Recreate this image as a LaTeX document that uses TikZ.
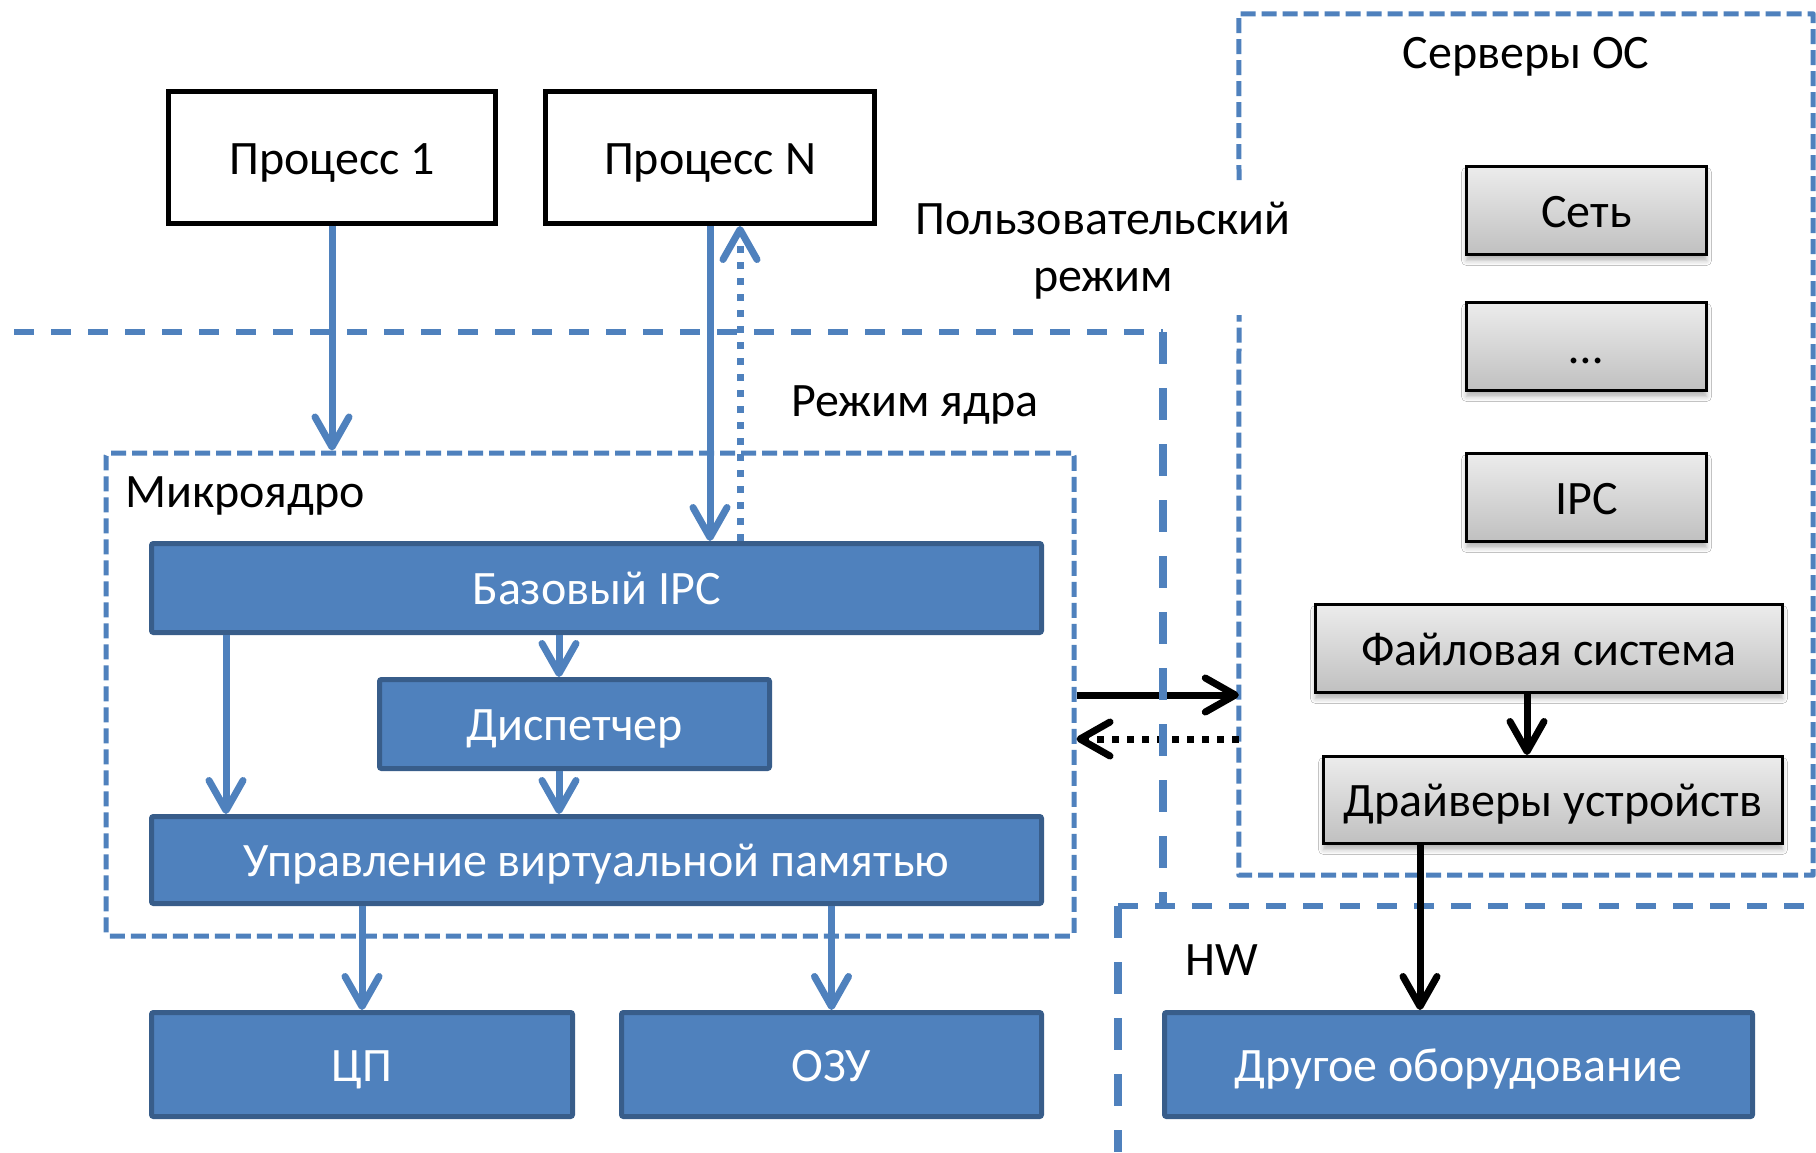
\documentclass[tikz,border=0pt]{standalone}
\usepackage{fontspec}
\setmainfont{Carlito}
\usetikzlibrary{arrows.meta,shadows.blur}
\definecolor{bfill}{RGB}{79,129,189}
\definecolor{bdraw}{RGB}{56,93,138}
\definecolor{gtop}{RGB}{236,236,236}
\definecolor{gbot}{RGB}{192,192,192}
\tikzset{
  lbl/.style={font=\fontsize{48}{57}\selectfont, inner sep=0pt},
  boxtxt/.style={lbl, text height=33pt, text depth=0pt},
  bluebox/.style={boxtxt, draw=bdraw, fill=bfill, line width=5pt, text=white, rounded corners=2pt},
  procbox/.style={boxtxt, draw=black, fill=white, line width=5pt},
  graybox/.style={boxtxt, draw=black, line width=3pt, top color=gtop, bottom color=gbot,
    blur shadow={shadow xshift=0pt, shadow yshift=-6pt, shadow blur radius=5pt, shadow opacity=30}},
  tipb/.style={-{Straight Barb[length=30pt,width=34pt,round]}},
  bluearr/.style={tipb, draw=bfill, line width=7pt},
  bluedot/.style={bluearr, dash pattern=on 7pt off 9pt},
  blackarr/.style={tipb, draw=black, line width=7pt},
  blackdot/.style={blackarr, dash pattern=on 7pt off 8pt},
  thindash/.style={draw=bfill, line width=5pt, dash pattern=on 15pt off 6pt, line join=round},
  thickh/.style={draw=bfill, line width=6pt, dash pattern=on 20pt off 17pt},
  thickv/.style={draw=bfill, line width=8pt, dash pattern=on 32pt off 24pt}
}
\begin{document}
\begin{tikzpicture}[x=1pt,y=-1pt]
\useasboundingbox (0,0) rectangle (1816,1152);
\fill[white] (0,0) rectangle (1816,1152);

% regions
\node[thindash, minimum width=968pt, minimum height=483pt, inner sep=0pt, rounded corners=3pt] (mk) at (590,694.5) {};
\node[minimum width=574pt, minimum height=861pt, inner sep=0pt] (srv) at (1526,444.5) {};
\coordinate (g1) at (1239,180);
\coordinate (g2) at (1239,315);
\draw[thindash] (g1) -- (srv.north west) -- (srv.north east) -- (srv.south east) -- (srv.south west) -- (g2);

% mode boundaries (horizontal)
\draw[thickh] (14,332) -- (1163,332);
\draw[thickh] (1118,906) -- (1816,906);

% labels
\node[lbl, anchor=base] (srvt) at (1526,68) {Серверы ОС};
\node[lbl, anchor=base, align=center] (user) at (1103,291) {Пользовательский\\режим};
\node[lbl, anchor=base west] (kern) at (791,416) {Режим ядра};
\node[lbl, anchor=base west] (mkt) at (125,507) {Микроядро};
\node[lbl, anchor=base west] (hwt) at (1185,975) {HW};

% boxes
\node[procbox, minimum width=327pt, minimum height=132pt] (p1) at (332,157.5) {Процесс 1};
\node[procbox, minimum width=329pt, minimum height=132pt] (pN) at (710,157.5) {Процесс N};

\node[bluebox, minimum width=890pt, minimum height=89pt] (ipc) at (596.5,588) {Базовый IPC};
\node[bluebox, minimum width=390pt, minimum height=89pt] (disp) at (574.5,724) {Диспетчер};
\node[bluebox, minimum width=890pt, minimum height=87pt] (vm) at (596.5,860) {Управление виртуальной памятью};
\node[bluebox, minimum width=421pt, minimum height=104pt] (cpu) at (362,1064.5) {ЦП};
\node[bluebox, minimum width=420pt, minimum height=104pt] (ram) at (831.5,1064.5) {ОЗУ};
\node[bluebox, minimum width=588pt, minimum height=104pt] (hw) at (1458.5,1064.5) {Другое оборудование};

\node[graybox, minimum width=240pt, minimum height=88pt] (net) at (1586.5,210.5) {Сеть};
\node[graybox, minimum width=240pt, minimum height=88pt] (etc) at (1586.5,346.5) {…};
\node[graybox, minimum width=240pt, minimum height=88pt] (sipc) at (1586.5,497.5) {IPC};
\node[graybox, minimum width=467pt, minimum height=88pt] (fs) at (1549,648.5) {Файловая система};
\node[graybox, minimum width=459pt, minimum height=87pt] (drv) at (1553,800) {Драйверы устройств};

% blue arrows
\coordinate (dx) at (740,0);
\coordinate (lx) at (226,0);
\coordinate (mx) at (559,0);
\draw[bluearr] (p1.south) -- (p1.south |- mk.north);
\draw[bluearr] (pN.south) -- (pN.south |- ipc.north);
\draw[bluedot] (ipc.north -| dx) -- (pN.south -| dx);
\draw[bluearr] (ipc.south -| lx) -- (vm.north -| lx);
\draw[bluearr] (ipc.south -| mx) -- (disp.north -| mx);
\draw[bluearr] (disp.south -| mx) -- (vm.north -| mx);
\draw[bluearr] (vm.south -| cpu.north) -- (cpu.north);
\draw[bluearr] (vm.south -| ram.north) -- (ram.north);

% kernel <-> servers
\coordinate (ay) at (0,695);
\coordinate (by) at (0,739);
\draw[blackarr] (mk.east |- ay) -- (srv.west |- ay);
\draw[blackdot] (srv.west |- by) -- (mk.east |- by);

% mode boundaries (vertical)
\draw[thickv] (1163,332) -- (1163,906);
\draw[thickv] (1118,906) -- (1118,1152);

% server arrows
\coordinate (fx) at (1527,0);
\coordinate (hx) at (1420,0);
\draw[blackarr] (fs.south -| fx) -- (drv.north -| fx);
\draw[blackarr] (drv.south -| hx) -- (hw.north -| hx);
\end{tikzpicture}
\end{document}
